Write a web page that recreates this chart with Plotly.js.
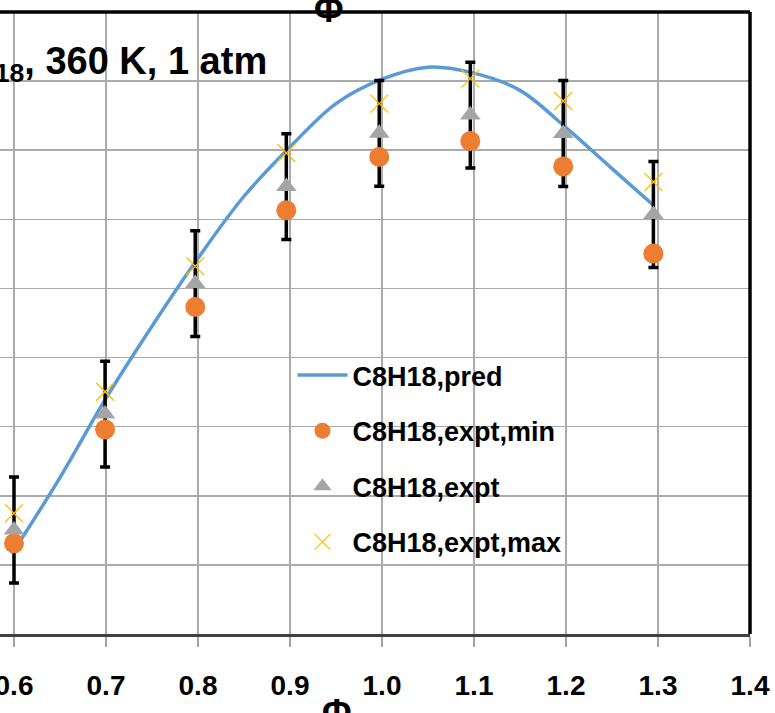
<!DOCTYPE html>
<html>
<head>
<meta charset="utf-8">
<script src="https://cdn.plot.ly/plotly-3.0.1.min.js"></script>
<style>
  html, body { margin: 0; padding: 0; background: #ffffff; }
  #chart { width: 775px; height: 713px; }
</style>
</head>
<body>
<div id="chart"></div>
<script>
// ---- data ----
const phiExpt   = [0.6, 0.699, 0.797, 0.896, 0.997, 1.096, 1.197, 1.295];
const suExptMin = [16.56, 24.80, 33.66, 40.65, 44.51, 45.66, 43.83, 37.52];
const suExpt    = [17.52, 25.91, 35.35, 42.37, 46.22, 47.54, 46.21, 40.35];
const suExptMax = [18.73, 27.52, 36.61, 44.80, 48.37, 50.18, 48.56, 42.70];
const suExptErr = [3.83, 3.83, 3.83, 3.83, 3.83, 3.83, 3.83, 3.83];

const phiPred = [0.6, 0.65, 0.7, 0.75, 0.8, 0.85, 0.9, 0.95, 1.0, 1.05, 1.1, 1.15, 1.2, 1.25, 1.295];
const suPred  = [16.03, 21.32, 27.06, 32.27, 37.18, 41.67, 45.23, 48.37, 50.14, 51.01, 50.58, 49.33, 46.63, 43.67, 41.02];

const seriesNames = ['C8H18,pred', 'C8H18,expt,min', 'C8H18,expt', 'C8H18,expt,max'];
const xTickVals = [0.6, 0.7, 0.8, 0.9, 1.0, 1.1, 1.2, 1.3, 1.4];
const titleText = 'C<sub>8</sub>H<sub>18</sub>, 360 K, 1 atm';
const axisTitle = 'Φ';

// ---- styling ----
const FONT = 'Liberation Sans, Arial, sans-serif';

const traces = [
  {
    x: phiPred, y: suPred, name: seriesNames[0], legendgroup: 'a',
    mode: 'lines', type: 'scatter',
    line: {color: '#5B9BD5', width: 3.5, shape: 'spline', smoothing: 1}
  },
  {
    x: phiExpt, y: suExpt, name: 'err', legendgroup: 'e', showlegend: false,
    mode: 'markers', type: 'scatter', hoverinfo: 'skip',
    marker: {size: 1, opacity: 0},
    error_y: {type: 'data', array: suExptErr, visible: true, color: '#000000', thickness: 3.5, width: 5}
  },
  {
    x: phiExpt, y: suExptMin, name: seriesNames[1], legendgroup: 'b',
    mode: 'markers', type: 'scatter',
    marker: {symbol: 'circle', size: 20, color: '#ED7D31'}
  },
  {
    x: phiExpt, y: suExpt, name: seriesNames[2], legendgroup: 'c',
    mode: 'markers', type: 'scatter',
    marker: {symbol: 'triangle-up', size: 18, color: '#A5A5A5'}
  },
  {
    x: phiExpt, y: suExptMax, name: seriesNames[3], legendgroup: 'd',
    mode: 'markers', type: 'scatter',
    marker: {symbol: 'x-thin-open', size: 18, color: '#FFC000', line: {color: '#FFC000', width: 1.3}}
  }
];

const layout = {
  width: 775, height: 713,
  margin: {l: 0, r: 25, t: 12, b: 79, pad: 0},
  paper_bgcolor: '#ffffff', plot_bgcolor: '#ffffff',
  font: {family: FONT, color: '#000000'},
  showlegend: true,
  legend: {
    x: 0.39, xanchor: 'left', y: 0.455, yanchor: 'top',
    bgcolor: 'rgba(0,0,0,0)', borderwidth: 0,
    font: {family: FONT, size: 27, color: '#000000', weight: 'bold'},
    traceorder: 'grouped', tracegroupgap: 17.5, itemwidth: 50
  },
  xaxis: {
    range: [0.6 - 14 / 920, 1.4],
    tickvals: xTickVals, tickformat: '.1f',
    showgrid: true, gridcolor: '#ababab', gridwidth: 1.5,
    zeroline: false,
    showline: true, linecolor: '#404040', linewidth: 2.5,
    ticks: 'outside', ticklen: 10, tickcolor: '#a6a6a6', tickwidth: 1.5,
    tickfont: {family: FONT, size: 28, color: '#000000', weight: 'bold'},
    ticklabeloverflow: 'allow', ticklabelstandoff: 15
  },
  yaxis: {
    range: [10, 55], dtick: 5, tick0: 10,
    showgrid: true, gridcolor: '#ababab', gridwidth: 1.5,
    zeroline: false, showline: false, showticklabels: false, ticks: ''
  },
  shapes: [
    {type: 'line', xref: 'paper', yref: 'paper', x0: 0, x1: 1, y0: 1, y1: 1, line: {color: '#000000', width: 3.5}},
    {type: 'line', xref: 'paper', yref: 'paper', x0: 1, x1: 1, y0: 0, y1: 1, line: {color: '#000000', width: 3.5}}
  ],
  annotations: [
    {
      text: titleText, xref: 'paper', yref: 'paper', x: 0.358, xanchor: 'right',
      y: 0.917, yanchor: 'middle', showarrow: false,
      font: {family: FONT, size: 38, color: '#000000', weight: 'bold'}
    },
    {
      text: axisTitle, xref: 'paper', yref: 'paper', x: 329 / 750, xanchor: 'center',
      y: 1, yanchor: 'bottom', yshift: -20, showarrow: false,
      font: {family: FONT, size: 36, color: '#000000', weight: 'bold'}
    },
    {
      text: axisTitle, xref: 'paper', yref: 'paper', x: 337 / 750, xanchor: 'center',
      y: 0, yanchor: 'top', yshift: -56, showarrow: false,
      font: {family: FONT, size: 36, color: '#000000', weight: 'bold'}
    }
  ]
};

Plotly.newPlot('chart', traces, layout, {displayModeBar: false, staticPlot: true});
</script>
</body>
</html>
